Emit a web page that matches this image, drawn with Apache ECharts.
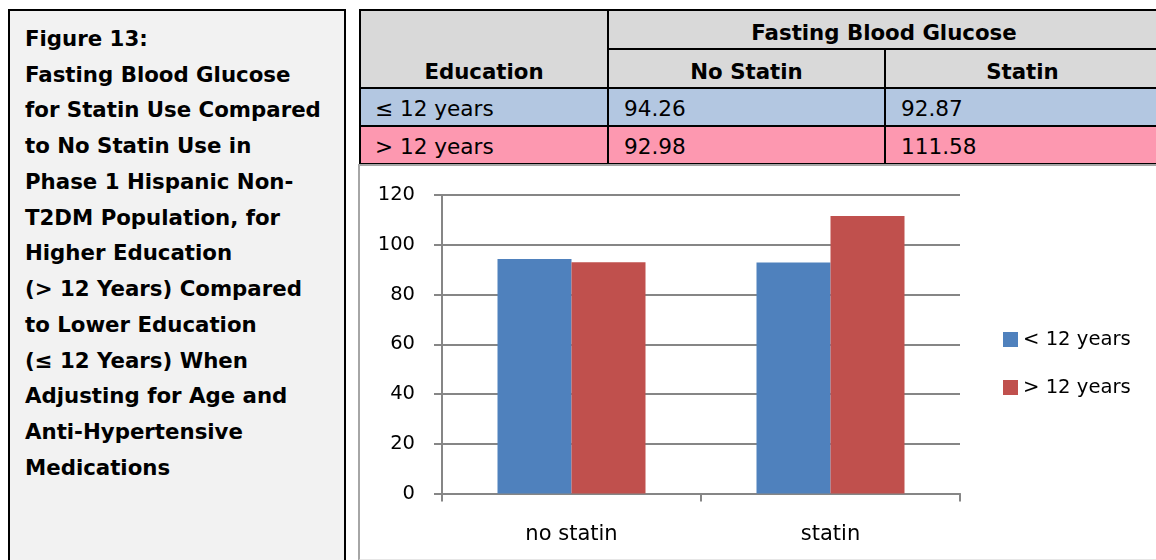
<!DOCTYPE html>
<html>
<head>
<meta charset="utf-8">
<script src="https://cdn.jsdelivr.net/npm/echarts@6/dist/echarts.min.js"></script>
<style>
  html, body { margin: 0; padding: 0; background: #fff; width: 1156px; height: 560px; overflow: hidden; }
  body { position: relative; font-family: "DejaVu Sans", sans-serif; color: #000; }
  .abs { position: absolute; }
  #caption {
    position: absolute; left: 8px; top: 9px; width: 334px; height: 600px;
    background: #f2f2f2; border: 2px solid #000;
    font-weight: bold; font-size: 21.3px; line-height: 35.75px;
  }
  #caption div { position: absolute; left: 15px; white-space: nowrap; }
  .cell { position: absolute; display: flex; align-items: center; white-space: nowrap;
          font-size: 21.6px; box-sizing: border-box; padding-top: 2px; }
  .cell.hd { font-weight: bold; font-size: 21.3px; justify-content: center; padding-top: 5px; }
  .line { position: absolute; background: #000; }
  #chartBox {
    position: absolute; left: 358px; top: 164px; width: 810px; height: 393px;
    border: 2px solid #a6a6a6; border-bottom-color: #e6e6e6; background: #fff;
  }
  #chart { position: absolute; left: 0; top: 0; width: 1156px; height: 560px; }
</style>
</head>
<body>
<div id="caption"></div>
<div id="table"></div>
<div id="chartBox"></div>
<div id="chart"></div>
<script>
// Fasting blood glucose by statin use and education level
const categories = ['no statin', 'statin'];
const columnLabels = ['No Statin', 'Statin'];
const rowLabels = ['≤ 12 years', '> 12 years'];
const seriesNames = ['< 12 years', '> 12 years'];
const lowerEducation = [94.26, 92.87];
const higherEducation = [92.98, 111.58];
const yMin = 0, yMax = 120, yStep = 20;

const captionLines = [
  'Figure 13:',
  'Fasting Blood Glucose',
  'for Statin Use Compared',
  'to No Statin Use in',
  'Phase 1 Hispanic Non-',
  'T2DM Population, for',
  'Higher Education',
  '(> 12 Years) Compared',
  'to Lower Education',
  '(≤ 12 Years) When',
  'Adjusting for Age and',
  'Anti-Hypertensive',
  'Medications'
];

// caption panel
const cap = document.getElementById('caption');
captionLines.forEach((t, i) => {
  const d = document.createElement('div');
  d.textContent = t;
  d.style.top = (9.8 + i * 35.75) + 'px';
  cap.appendChild(d);
});

// summary table, laid out on fixed column / row edges
const colX = [360, 608, 885, 1160];
const rowY = [10, 49, 88, 126, 164];
const rowColors = ['#b3c7e1', '#fd98b0'];
const tableEl = document.getElementById('table');
function box(cls, x, y, w, h, text, style) {
  const d = document.createElement('div');
  d.className = cls;
  d.style.left = x + 'px'; d.style.top = y + 'px';
  d.style.width = w + 'px'; d.style.height = h + 'px';
  if (text !== undefined) d.textContent = text;
  if (style) Object.assign(d.style, style);
  tableEl.appendChild(d);
  return d;
}
// backgrounds
box('abs', colX[0], rowY[0], 1156 - colX[0], rowY[2] - rowY[0], undefined, { background: '#d9d9d9' });
rowColors.forEach((c, r) => box('abs', colX[0], rowY[2 + r], 1156 - colX[0], rowY[3 + r] - rowY[2 + r], undefined, { background: c }));
// header text
box('cell hd', colX[0], rowY[1], colX[1] - colX[0], rowY[2] - rowY[1], 'Education');
box('cell hd', colX[1], rowY[0], colX[3] - colX[1], rowY[1] - rowY[0], 'Fasting Blood Glucose');
columnLabels.forEach((c, i) => box('cell hd', colX[1 + i], rowY[1], colX[2 + i] - colX[1 + i], rowY[2] - rowY[1], c));
// body text
[lowerEducation, higherEducation].forEach((vals, r) => {
  const y = rowY[2 + r], h = rowY[3 + r] - y;
  box('cell', colX[0] + 15, y, colX[1] - colX[0] - 15, h, rowLabels[r]);
  vals.forEach((v, i) => box('cell', colX[1 + i] + 16, y, colX[2 + i] - colX[1 + i] - 16, h, v.toFixed(2)));
});
// horizontal rules (the one under the group header spans only the value columns)
rowY.forEach((y, i) => {
  const x0 = i === 1 ? colX[1] : colX[0];
  box('line', x0 - 1, y - 1, 1160 - x0, 2);
});
// vertical rules (the Statin divider starts below the group header)
colX.slice(0, 3).forEach((x, i) => {
  const y0 = i === 2 ? rowY[1] : rowY[0];
  box('line', x - 1, y0 - 1, 2, rowY[4] - y0 + 2);
});

// bar chart
const chart = echarts.init(document.getElementById('chart'), null, { renderer: 'canvas' });
const axisGray = '#868686';
const font = '"DejaVu Sans", sans-serif';
chart.setOption({
  backgroundColor: 'transparent',
  animation: false,
  textStyle: { fontFamily: font },
  grid: { left: 442, right: 196, top: 195, bottom: 66.5, containLabel: false },
  legend: {
    orient: 'vertical', left: 1003, top: 329.5, padding: 0,
    itemWidth: 15, itemHeight: 15, itemGap: 28, icon: 'rect',
    textStyle: { fontSize: 19.6, lineHeight: 20, color: '#000', fontFamily: font },
    data: seriesNames
  },
  xAxis: {
    type: 'category', data: categories,
    axisLine: { lineStyle: { color: axisGray, width: 2 } },
    axisTick: { show: true, length: 8, lineStyle: { color: axisGray, width: 2 } },
    axisLabel: { fontSize: 21, color: '#000', margin: 31, fontFamily: font }
  },
  yAxis: {
    type: 'value', min: yMin, max: yMax, interval: yStep,
    axisLine: { show: true, lineStyle: { color: axisGray, width: 2 } },
    axisTick: { show: true, length: 8, lineStyle: { color: axisGray, width: 2 } },
    axisLabel: { fontSize: 19.5, color: '#000', margin: 27, fontFamily: font, padding: [4, 0, 0, 0] },
    splitLine: { show: true, lineStyle: { color: axisGray, width: 2 } }
  },
  series: [
    { name: seriesNames[0], type: 'bar', data: lowerEducation, barWidth: 74, barGap: '0%',
      itemStyle: { color: '#4f81bd' } },
    { name: seriesNames[1], type: 'bar', data: higherEducation, barWidth: 74, barGap: '0%',
      itemStyle: { color: '#c0504d' } }
  ]
});
</script>
</body>
</html>
